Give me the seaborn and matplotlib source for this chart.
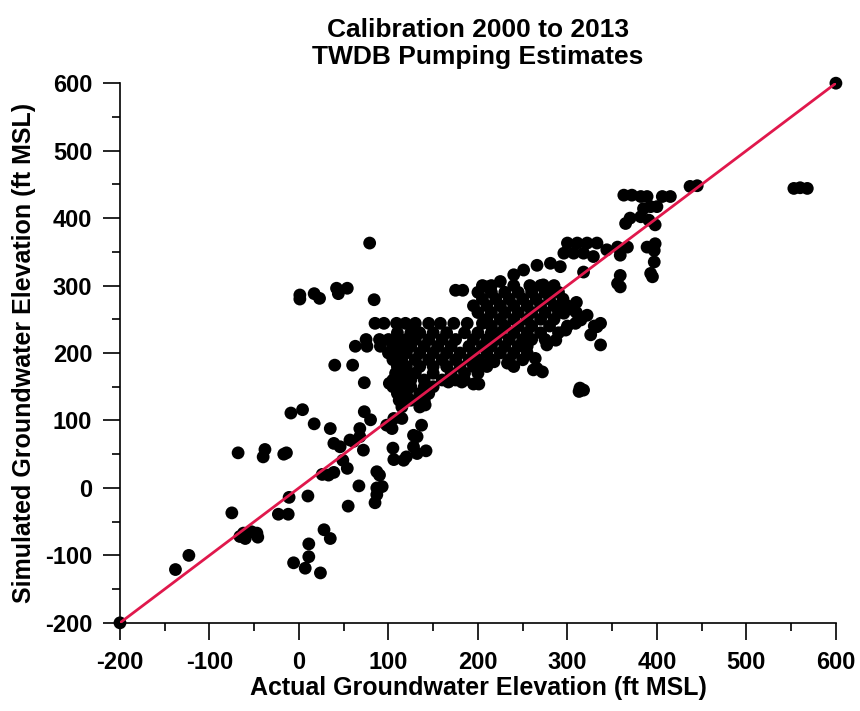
import numpy as np
import matplotlib
matplotlib.use("Agg")
import matplotlib.pyplot as plt
from matplotlib.ticker import MultipleLocator
import pandas as pd
import seaborn as sb

# actual vs simulated groundwater elevation (ft MSL)
sparse_pts = [
    (600, 600), (-200, -200), (553, 444), (560, 445), (568, 444), (437, 447), (445, 448),
    (79, 363), (1, 280), (1, 286), (17, 288), (23, 281), (42, 296), (54, 296), (44, 288),
    (84, 279), (183, 293), (175, 293),
    (-138, -121), (-123, -100), (-75, -37), (-62, -67), (-66, -72), (-60, -75), (-53, -65),
    (-47, -67), (-46, -73), (-68, 52), (-38, 57), (-40, 46), (-17, 50), (-14, 52),
    (-9, 111), (4, 116), (-11, -14), (-23, -39), (-12, -39), (10, -12), (26, 20), (39, 23),
    (33, 19), (28, -62), (35, -75), (11, -83), (11, -102), (-6, -111), (7, -119), (24, -126),
    (17, 95), (35, 88), (73, 113), (80, 101), (68, 88), (39, 66), (46, 61), (57, 71), (61, 69),
    (68, 76), (72, 56), (49, 41), (54, 29), (55, -27), (67, 3), (87, 24), (90, 19), (87, 0),
    (93, 2), (87, -10), (85, -22), (98, 93), (104, 88), (106, 103), (115, 103), (105, 59),
    (106, 42), (117, 41), (120, 46), (128, 78), (132, 76), (137, 93), (128, 61), (132, 51),
    (142, 55), (137, 128), (141, 123), (40, 182), (60, 182), (73, 156), (101, 155),
    (167, 157), (182, 157), (195, 154), (201, 154),
]

upper_band = [
    (363, 434), (372, 434), (382, 432), (389, 432), (406, 432), (415, 432),
    (393, 417), (400, 417), (385, 414), (382, 402), (370, 400), (365, 392), (391, 397), (398, 390),
    (300, 363), (311, 363), (322, 363), (333, 363), (296, 348), (307, 348), (318, 348), (329, 343),
    (344, 353), (356, 357), (367, 357), (359, 345), (389, 357), (398, 362), (397, 352),
    (397, 335), (393, 318), (395, 313), (359, 315), (356, 303), (359, 298), (318, 320),
    (210, 298), (225, 306), (240, 316), (251, 323), (266, 330), (281, 333), (292, 328),
    (259, 298), (273, 301), (285, 293), (292, 269), (296, 259), (315, 249), (322, 256),
    (333, 239), (337, 212), (277, 212), (264, 192), (266, 177), (272, 172), (262, 175),
    (314, 148), (313, 143), (318, 145), (203, 185), (218, 187), (233, 185),
    (287, 219), (298, 234), (309, 244), (326, 227), (337, 244), (305, 265), (310, 275),
]

dense_rows = {
    300: [205, 215, 240, 258, 270, 285],
    290: [200, 215, 230, 245, 260, 275, 290],
    280: [205, 220, 235, 250, 265, 280, 295],
    270: [195, 210, 225, 240, 255, 270, 285, 300],
    260: [200, 215, 230, 245, 260, 275, 290, 310],
    250: [210, 225, 240, 255, 270, 285],
    244: [85, 95, 109, 119, 130, 145, 158, 173, 188, 205],
    240: [215, 230, 245, 260, 280, 300, 330],
    230: [110, 125, 135, 150, 165, 185, 200, 215, 225, 240, 255, 270, 290],
    220: [75, 90, 100, 110, 120, 130, 145, 160, 175, 195, 210, 220, 235, 250, 260, 275],
    210: [63, 76, 91, 105, 115, 125, 140, 155, 170, 190, 205, 215, 230, 245, 255],
    200: [100, 110, 120, 135, 150, 165, 180, 195, 210, 225, 240, 255],
    190: [105, 115, 130, 145, 160, 175, 190, 200, 215, 235, 250],
    180: [110, 120, 135, 150, 165, 180, 195, 210, 240],
    170: [108, 118, 130, 150, 170, 185, 200],
    160: [105, 115, 125, 140, 160, 175, 185],
    150: [105, 112, 125, 140, 150],
    140: [110, 120, 135, 145],
    130: [112, 125, 140],
    120: [115, 135],
}

actual = [p[0] for p in sparse_pts + upper_band]
simulated = [p[1] for p in sparse_pts + upper_band]
for yv, xs in dense_rows.items():
    actual += xs
    simulated += [yv] * len(xs)

one_to_one = [-200, 600]

df = pd.DataFrame({"actual": actual, "simulated": simulated})
line_df = pd.DataFrame({"x": one_to_one, "y": one_to_one})

sb.set_style("white")
plt.rcParams["font.family"] = ["Liberation Sans Narrow", "Liberation Sans", "DejaVu Sans"]
plt.rcParams["font.weight"] = "bold"
plt.rcParams["axes.unicode_minus"] = False
plt.rcParams["text.color"] = "black"
plt.rcParams["axes.labelcolor"] = "black"
plt.rcParams["xtick.color"] = "black"
plt.rcParams["ytick.color"] = "black"

fig = plt.figure(figsize=(8.6, 7.11), dpi=100)
ax = fig.add_axes([0.1395, 0.124, 0.8325, 0.759])

sb.scatterplot(data=df, x="actual", y="simulated", color="black", s=85,
               edgecolor="none", linewidth=0, ax=ax, clip_on=False, zorder=3)
sb.lineplot(data=line_df, x="x", y="y", color="#e0184c", linewidth=2, ax=ax, zorder=4)

ax.set_xlim(-200, 600)
ax.set_ylim(-200, 600)
ax.xaxis.set_major_locator(MultipleLocator(100))
ax.xaxis.set_minor_locator(MultipleLocator(50))
ax.yaxis.set_major_locator(MultipleLocator(100))
ax.yaxis.set_minor_locator(MultipleLocator(50))
ax.tick_params(which="major", direction="out", length=12, width=1.2, labelsize=17, pad=8,
               bottom=True, left=True, color="black", labelcolor="black")
ax.tick_params(which="minor", direction="out", length=6, width=1.2, bottom=True, left=True, color="black")
for sp in ["top", "right"]:
    ax.spines[sp].set_visible(False)
for sp in ["left", "bottom"]:
    ax.spines[sp].set_color("black")
    ax.spines[sp].set_linewidth(1.2)

ax.set_xlabel("Actual Groundwater Elevation (ft MSL)", fontsize=18, fontweight="bold", labelpad=2, color="black")
ax.set_ylabel("Simulated Groundwater Elevation (ft MSL)", fontsize=18, fontweight="bold", labelpad=6, color="black")
ax.set_title("Calibration 2000 to 2013\nTWDB Pumping Estimates", fontsize=19, fontweight="bold",
             linespacing=1.15, pad=14, color="black")

plt.savefig("out.png", dpi=100)
plt.close()
